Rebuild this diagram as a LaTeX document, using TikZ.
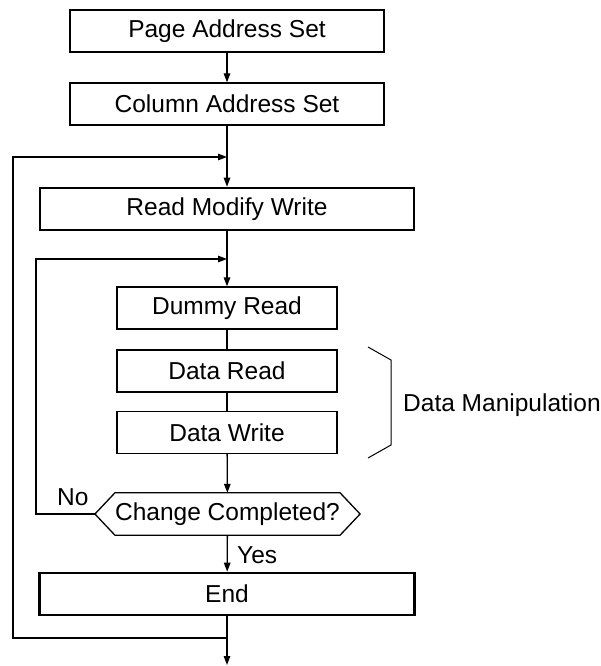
\documentclass[tikz,border=0pt]{standalone}
\usepackage{fontspec}
\setmainfont{Liberation Sans}
\usetikzlibrary{arrows.meta}
\begin{document}
\begin{tikzpicture}[x=1pt,y=-1pt,
  every node/.style={font=\fontsize{24.5}{29}\selectfont,inner sep=0pt},
  box/.style={draw,line width=1.3pt,minimum height=42pt},
  tbox/.style={box,line width=2.6pt},
  conn/.style={line width=1.3pt},
  arr/.style={conn,-{Triangle[length=9pt,width=6.5pt]}}]
\useasboundingbox (0,0) rectangle (601,666);
% boxes
\node[box,minimum width=314pt] (page) at (227,31) {Page Address Set};
\node[box,minimum width=314pt] (col) at (227,104) {Column Address Set};
\node[tbox,minimum width=374pt] (rmw) at (227,209) {Read Modify Write};
\node[box,minimum width=220pt] (dummy) at (227,308) {Dummy Read};
\node[box,minimum width=220pt] (dread) at (227,371) {Data Read};
\node[box,minimum width=220pt] (dwrite) at (227,432.5) {Data Write};
\node[minimum width=221pt,minimum height=42pt] (chk) at (227.5,514) {Change Completed?};
\node[tbox,minimum width=375pt] (end) at (227,594) {End};
% hexagon outline
\coordinate (chkL) at ([xshift=-20pt]chk.west);
\coordinate (chkR) at ([xshift=20pt]chk.east);
\draw[conn] (chk.north west) -- (chk.north east) -- (chkR) -- (chk.south east) -- (chk.south west) -- (chkL) -- cycle;
% labels
\node[anchor=west] (no) at (57,497) {No};
\node[anchor=west] (yes) at (237,555) {Yes};
\node[anchor=base west] (dm) at (403,411) {Data Manipulation};
% straight connectors
\draw[arr] (page) -- (col);
\draw[arr] (col) -- (rmw);
\draw[arr] (rmw) -- (dummy);
\draw[conn] (dummy) -- (dread);
\draw[conn] (dread) -- (dwrite);
\draw[arr] (dwrite) -- (chk);
\draw[arr] (chk) -- (end);
\coordinate (endtip) at (227,665);
\draw[arr] (end) -- (endtip);
% outer loop
\coordinate (ob) at (227,638);
\coordinate (obL) at (13,638);
\coordinate (otL) at (13,157);
\coordinate (ot) at (227,157);
\draw[arr] (ob) -- (obL) -- (otL) -- (ot);
% inner loop
\coordinate (ibL) at (36,514);
\coordinate (itL) at (36,259);
\coordinate (it) at (227,259);
\draw[arr] (chkL) -- (ibL) -- (itL) -- (it);
% bracket
\coordinate (b1) at (368,347);
\coordinate (b2) at (391,360);
\coordinate (b3) at (391,445);
\coordinate (b4) at (368,458);
\draw[line width=1pt] (b1) -- (b2) -- (b3) -- (b4);
\end{tikzpicture}
\end{document}
